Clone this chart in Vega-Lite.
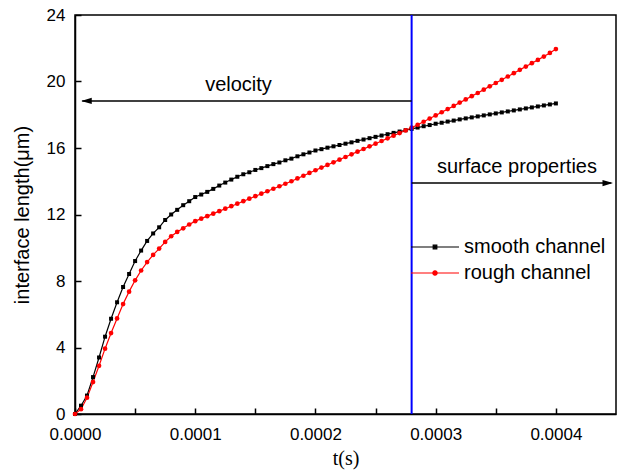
{
  "$schema": "https://vega.github.io/schema/vega-lite/v6.json",
  "width": 541,
  "height": 399,
  "autosize": "none",
  "padding": {"left": 75, "top": 15, "right": 2, "bottom": 59},
  "background": "white",
  "config": {
    "view": {"stroke": "#000000", "strokeWidth": 1.5},
    "axis": {
      "grid": false,
      "domainColor": "#000000",
      "domainWidth": 1.5,
      "tickColor": "#000000",
      "tickWidth": 1.5,
      "labelColor": "#000000",
      "labelFont": "Liberation Sans",
      "labelFontSize": 17,
      "titleColor": "#000000",
      "titleFontWeight": "normal"
    }
  },
  "datasets": {
    "series": [
      {"t": 0, "v": 0, "s": "smooth channel"},
      {"t": 0.000005, "v": 0.5, "s": "smooth channel"},
      {"t": 0.00001, "v": 1.11, "s": "smooth channel"},
      {"t": 0.000015, "v": 2.22, "s": "smooth channel"},
      {"t": 0.00002, "v": 3.40, "s": "smooth channel"},
      {"t": 0.000025, "v": 4.65, "s": "smooth channel"},
      {"t": 0.00003, "v": 5.73, "s": "smooth channel"},
      {"t": 0.000035, "v": 6.72, "s": "smooth channel"},
      {"t": 0.00004, "v": 7.64, "s": "smooth channel"},
      {"t": 0.000045, "v": 8.42, "s": "smooth channel"},
      {"t": 0.00005, "v": 9.20, "s": "smooth channel"},
      {"t": 0.000055, "v": 9.83, "s": "smooth channel"},
      {"t": 0.00006, "v": 10.41, "s": "smooth channel"},
      {"t": 0.000065, "v": 10.86, "s": "smooth channel"},
      {"t": 0.00007, "v": 11.23, "s": "smooth channel"},
      {"t": 0.000075, "v": 11.67, "s": "smooth channel"},
      {"t": 0.00008, "v": 12.00, "s": "smooth channel"},
      {"t": 0.000085, "v": 12.28, "s": "smooth channel"},
      {"t": 0.00009, "v": 12.56, "s": "smooth channel"},
      {"t": 0.000095, "v": 12.80, "s": "smooth channel"},
      {"t": 0.0001, "v": 13.05, "s": "smooth channel"},
      {"t": 0.000105, "v": 13.20, "s": "smooth channel"},
      {"t": 0.00011, "v": 13.36, "s": "smooth channel"},
      {"t": 0.000115, "v": 13.54, "s": "smooth channel"},
      {"t": 0.00012, "v": 13.74, "s": "smooth channel"},
      {"t": 0.000125, "v": 13.92, "s": "smooth channel"},
      {"t": 0.00013, "v": 14.10, "s": "smooth channel"},
      {"t": 0.000135, "v": 14.27, "s": "smooth channel"},
      {"t": 0.00014, "v": 14.42, "s": "smooth channel"},
      {"t": 0.000145, "v": 14.54, "s": "smooth channel"},
      {"t": 0.00015, "v": 14.68, "s": "smooth channel"},
      {"t": 0.000155, "v": 14.79, "s": "smooth channel"},
      {"t": 0.00016, "v": 14.91, "s": "smooth channel"},
      {"t": 0.000165, "v": 15.03, "s": "smooth channel"},
      {"t": 0.00017, "v": 15.13, "s": "smooth channel"},
      {"t": 0.000175, "v": 15.26, "s": "smooth channel"},
      {"t": 0.00018, "v": 15.36, "s": "smooth channel"},
      {"t": 0.000185, "v": 15.50, "s": "smooth channel"},
      {"t": 0.00019, "v": 15.62, "s": "smooth channel"},
      {"t": 0.000195, "v": 15.73, "s": "smooth channel"},
      {"t": 0.0002, "v": 15.85, "s": "smooth channel"},
      {"t": 0.000205, "v": 15.93, "s": "smooth channel"},
      {"t": 0.00021, "v": 16.02, "s": "smooth channel"},
      {"t": 0.000215, "v": 16.10, "s": "smooth channel"},
      {"t": 0.00022, "v": 16.18, "s": "smooth channel"},
      {"t": 0.000225, "v": 16.26, "s": "smooth channel"},
      {"t": 0.00023, "v": 16.34, "s": "smooth channel"},
      {"t": 0.000235, "v": 16.43, "s": "smooth channel"},
      {"t": 0.00024, "v": 16.51, "s": "smooth channel"},
      {"t": 0.000245, "v": 16.59, "s": "smooth channel"},
      {"t": 0.00025, "v": 16.67, "s": "smooth channel"},
      {"t": 0.000255, "v": 16.75, "s": "smooth channel"},
      {"t": 0.00026, "v": 16.83, "s": "smooth channel"},
      {"t": 0.000265, "v": 16.91, "s": "smooth channel"},
      {"t": 0.00027, "v": 16.99, "s": "smooth channel"},
      {"t": 0.000275, "v": 17.07, "s": "smooth channel"},
      {"t": 0.00028, "v": 17.15, "s": "smooth channel"},
      {"t": 0.000285, "v": 17.23, "s": "smooth channel"},
      {"t": 0.00029, "v": 17.31, "s": "smooth channel"},
      {"t": 0.000295, "v": 17.38, "s": "smooth channel"},
      {"t": 0.0003, "v": 17.46, "s": "smooth channel"},
      {"t": 0.000305, "v": 17.52, "s": "smooth channel"},
      {"t": 0.00031, "v": 17.59, "s": "smooth channel"},
      {"t": 0.000315, "v": 17.65, "s": "smooth channel"},
      {"t": 0.00032, "v": 17.72, "s": "smooth channel"},
      {"t": 0.000325, "v": 17.78, "s": "smooth channel"},
      {"t": 0.00033, "v": 17.84, "s": "smooth channel"},
      {"t": 0.000335, "v": 17.90, "s": "smooth channel"},
      {"t": 0.00034, "v": 17.96, "s": "smooth channel"},
      {"t": 0.000345, "v": 18.02, "s": "smooth channel"},
      {"t": 0.00035, "v": 18.08, "s": "smooth channel"},
      {"t": 0.000355, "v": 18.14, "s": "smooth channel"},
      {"t": 0.00036, "v": 18.20, "s": "smooth channel"},
      {"t": 0.000365, "v": 18.26, "s": "smooth channel"},
      {"t": 0.00037, "v": 18.32, "s": "smooth channel"},
      {"t": 0.000375, "v": 18.38, "s": "smooth channel"},
      {"t": 0.00038, "v": 18.44, "s": "smooth channel"},
      {"t": 0.000385, "v": 18.50, "s": "smooth channel"},
      {"t": 0.00039, "v": 18.56, "s": "smooth channel"},
      {"t": 0.000395, "v": 18.62, "s": "smooth channel"},
      {"t": 0.0004, "v": 18.68, "s": "smooth channel"},
      {"t": 0, "v": 0, "s": "rough channel"},
      {"t": 0.000005, "v": 0.29, "s": "rough channel"},
      {"t": 0.00001, "v": 0.98, "s": "rough channel"},
      {"t": 0.000015, "v": 1.92, "s": "rough channel"},
      {"t": 0.00002, "v": 2.90, "s": "rough channel"},
      {"t": 0.000025, "v": 3.93, "s": "rough channel"},
      {"t": 0.00003, "v": 4.87, "s": "rough channel"},
      {"t": 0.000035, "v": 5.75, "s": "rough channel"},
      {"t": 0.00004, "v": 6.61, "s": "rough channel"},
      {"t": 0.000045, "v": 7.36, "s": "rough channel"},
      {"t": 0.00005, "v": 8.04, "s": "rough channel"},
      {"t": 0.000055, "v": 8.63, "s": "rough channel"},
      {"t": 0.00006, "v": 9.14, "s": "rough channel"},
      {"t": 0.000065, "v": 9.57, "s": "rough channel"},
      {"t": 0.00007, "v": 9.95, "s": "rough channel"},
      {"t": 0.000075, "v": 10.35, "s": "rough channel"},
      {"t": 0.00008, "v": 10.69, "s": "rough channel"},
      {"t": 0.000085, "v": 10.95, "s": "rough channel"},
      {"t": 0.00009, "v": 11.17, "s": "rough channel"},
      {"t": 0.000095, "v": 11.40, "s": "rough channel"},
      {"t": 0.0001, "v": 11.60, "s": "rough channel"},
      {"t": 0.000105, "v": 11.75, "s": "rough channel"},
      {"t": 0.00011, "v": 11.90, "s": "rough channel"},
      {"t": 0.000115, "v": 12.05, "s": "rough channel"},
      {"t": 0.00012, "v": 12.20, "s": "rough channel"},
      {"t": 0.000125, "v": 12.35, "s": "rough channel"},
      {"t": 0.00013, "v": 12.50, "s": "rough channel"},
      {"t": 0.000135, "v": 12.65, "s": "rough channel"},
      {"t": 0.00014, "v": 12.80, "s": "rough channel"},
      {"t": 0.000145, "v": 12.95, "s": "rough channel"},
      {"t": 0.00015, "v": 13.10, "s": "rough channel"},
      {"t": 0.000155, "v": 13.25, "s": "rough channel"},
      {"t": 0.00016, "v": 13.40, "s": "rough channel"},
      {"t": 0.000165, "v": 13.55, "s": "rough channel"},
      {"t": 0.00017, "v": 13.70, "s": "rough channel"},
      {"t": 0.000175, "v": 13.85, "s": "rough channel"},
      {"t": 0.00018, "v": 14.00, "s": "rough channel"},
      {"t": 0.000185, "v": 14.17, "s": "rough channel"},
      {"t": 0.00019, "v": 14.33, "s": "rough channel"},
      {"t": 0.000195, "v": 14.50, "s": "rough channel"},
      {"t": 0.0002, "v": 14.66, "s": "rough channel"},
      {"t": 0.000205, "v": 14.82, "s": "rough channel"},
      {"t": 0.00021, "v": 14.98, "s": "rough channel"},
      {"t": 0.000215, "v": 15.14, "s": "rough channel"},
      {"t": 0.00022, "v": 15.30, "s": "rough channel"},
      {"t": 0.000225, "v": 15.46, "s": "rough channel"},
      {"t": 0.00023, "v": 15.62, "s": "rough channel"},
      {"t": 0.000235, "v": 15.78, "s": "rough channel"},
      {"t": 0.00024, "v": 15.94, "s": "rough channel"},
      {"t": 0.000245, "v": 16.10, "s": "rough channel"},
      {"t": 0.00025, "v": 16.26, "s": "rough channel"},
      {"t": 0.000255, "v": 16.42, "s": "rough channel"},
      {"t": 0.00026, "v": 16.58, "s": "rough channel"},
      {"t": 0.000265, "v": 16.74, "s": "rough channel"},
      {"t": 0.00027, "v": 16.90, "s": "rough channel"},
      {"t": 0.000275, "v": 17.06, "s": "rough channel"},
      {"t": 0.00028, "v": 17.22, "s": "rough channel"},
      {"t": 0.000285, "v": 17.40, "s": "rough channel"},
      {"t": 0.00029, "v": 17.58, "s": "rough channel"},
      {"t": 0.000295, "v": 17.77, "s": "rough channel"},
      {"t": 0.0003, "v": 17.96, "s": "rough channel"},
      {"t": 0.000305, "v": 18.15, "s": "rough channel"},
      {"t": 0.00031, "v": 18.34, "s": "rough channel"},
      {"t": 0.000315, "v": 18.53, "s": "rough channel"},
      {"t": 0.00032, "v": 18.73, "s": "rough channel"},
      {"t": 0.000325, "v": 18.92, "s": "rough channel"},
      {"t": 0.00033, "v": 19.12, "s": "rough channel"},
      {"t": 0.000335, "v": 19.31, "s": "rough channel"},
      {"t": 0.00034, "v": 19.51, "s": "rough channel"},
      {"t": 0.000345, "v": 19.71, "s": "rough channel"},
      {"t": 0.00035, "v": 19.91, "s": "rough channel"},
      {"t": 0.000355, "v": 20.10, "s": "rough channel"},
      {"t": 0.00036, "v": 20.30, "s": "rough channel"},
      {"t": 0.000365, "v": 20.50, "s": "rough channel"},
      {"t": 0.00037, "v": 20.70, "s": "rough channel"},
      {"t": 0.000375, "v": 20.90, "s": "rough channel"},
      {"t": 0.00038, "v": 21.10, "s": "rough channel"},
      {"t": 0.000385, "v": 21.30, "s": "rough channel"},
      {"t": 0.00039, "v": 21.50, "s": "rough channel"},
      {"t": 0.000395, "v": 21.72, "s": "rough channel"},
      {"t": 0.0004, "v": 21.95, "s": "rough channel"}
    ],
    "vline": [{"t": 0.00028}],
    "arrows": [
      {"t1": 0.000006, "t2": 0.00028, "v": 18.83},
      {"t1": 0.00028, "t2": 0.000446, "v": 13.89}
    ],
    "headLeft": [{"t": 0.0000052, "v": 18.83}],
    "headRight": [{"t": 0.0004475, "v": 13.89}],
    "notes": [
      {"t": 0.000136, "v": 19.43, "label": "velocity"},
      {"t": 0.0003676, "v": 14.51, "label": "surface properties"}
    ]
  },
  "layer": [
    {
      "data": {"name": "series"},
      "mark": {"type": "line", "strokeWidth": 1.2},
      "encoding": {
        "x": {
          "field": "t", "type": "quantitative",
          "scale": {"domain": [0, 0.00045], "nice": false, "zero": false},
          "axis": {
            "title": "t(s)",
            "titleFont": "Liberation Serif",
            "titleFontSize": 20,
            "titlePadding": 6,
            "values": [0, 0.00005, 0.0001, 0.00015, 0.0002, 0.00025, 0.0003, 0.00035, 0.0004],
            "labelExpr": "round(datum.value*100000) % 10 === 0 ? format(datum.value, '.4f') : ''",
            "tickSize": -6,
            "labelPadding": 18,
            "labelFlush": false,
            "labelOverlap": false
          }
        },
        "y": {
          "field": "v", "type": "quantitative",
          "scale": {"domain": [0, 24], "nice": false},
          "axis": {
            "title": "interface length(μm)",
            "titleFont": "Liberation Sans",
            "titleFontSize": 20,
            "titlePadding": 14,
            "values": [0, 2, 4, 6, 8, 10, 12, 14, 16, 18, 20, 22, 24],
            "labelExpr": "datum.value % 4 === 0 ? datum.value : ''",
            "tickSize": -6,
            "labelPadding": 16,
            "labelFlush": false,
            "labelOverlap": false
          }
        },
        "color": {
          "field": "s", "type": "nominal",
          "scale": {"domain": ["smooth channel", "rough channel"], "range": ["#000000", "#ff0000"]},
          "legend": {
            "orient": "none",
            "legendX": 335,
            "legendY": 220,
            "title": null,
            "padding": 0,
            "labelFont": "Liberation Sans",
            "labelFontSize": 20,
            "labelColor": "#000000",
            "labelOffset": 4,
            "symbolType": "M-1,0L1,0",
            "symbolSize": 2304,
            "symbolStrokeWidth": 1.2,
            "clipHeight": 24,
            "rowPadding": 2,
            "encode": {
              "symbols": {
                "update": {
                  "shape": {"signal": "datum.value === 'smooth channel' ? 'M-1,0L1,0M-0.075,-0.075L0.075,-0.075L0.075,0.075L-0.075,0.075Z' : 'M-1,0L1,0M0.09,0A0.09,0.09,0,1,1,-0.09,0A0.09,0.09,0,1,1,0.09,0Z'"},
                  "fill": {"signal": "datum.value === 'smooth channel' ? '#000000' : '#ff0000'"},
                  "stroke": {"signal": "datum.value === 'smooth channel' ? '#000000' : '#ff0000'"},
                  "strokeWidth": {"value": 1.2},
                  "size": {"value": 2304},
                  "opacity": {"value": 1}
                }
              }
            }
          }
        },
        "order": {"field": "t", "type": "quantitative"}
      }
    },
    {
      "data": {"name": "series"},
      "transform": [{"filter": "datum.s === 'smooth channel'"}],
      "mark": {"type": "point", "filled": true, "opacity": 1, "shape": "square", "size": 16, "color": "#000000"},
      "encoding": {
        "x": {"field": "t", "type": "quantitative"},
        "y": {"field": "v", "type": "quantitative"}
      }
    },
    {
      "data": {"name": "series"},
      "transform": [{"filter": "datum.s === 'rough channel'"}],
      "mark": {"type": "point", "filled": true, "opacity": 1, "shape": "circle", "size": 22, "color": "#ff0000"},
      "encoding": {
        "x": {"field": "t", "type": "quantitative"},
        "y": {"field": "v", "type": "quantitative"}
      }
    },
    {
      "data": {"name": "vline"},
      "mark": {"type": "rule", "color": "#0000ff", "strokeWidth": 2},
      "encoding": {"x": {"field": "t", "type": "quantitative"}}
    },
    {
      "data": {"name": "arrows"},
      "mark": {"type": "rule", "color": "#000000", "strokeWidth": 1.5},
      "encoding": {
        "x": {"field": "t1", "type": "quantitative"},
        "x2": {"field": "t2"},
        "y": {"field": "v", "type": "quantitative"}
      }
    },
    {
      "data": {"name": "headLeft"},
      "mark": {"type": "point", "filled": true, "color": "#000000", "opacity": 1, "size": 110, "shape": "M0,0L2,-0.6L2,0.6Z"},
      "encoding": {
        "x": {"field": "t", "type": "quantitative"},
        "y": {"field": "v", "type": "quantitative"}
      }
    },
    {
      "data": {"name": "headRight"},
      "mark": {"type": "point", "filled": true, "color": "#000000", "opacity": 1, "size": 110, "shape": "M0,0L-2,-0.6L-2,0.6Z"},
      "encoding": {
        "x": {"field": "t", "type": "quantitative"},
        "y": {"field": "v", "type": "quantitative"}
      }
    },
    {
      "data": {"name": "notes"},
      "mark": {"type": "text", "font": "Liberation Sans", "fontSize": 20, "color": "#000000", "align": "center", "baseline": "alphabetic"},
      "encoding": {
        "x": {"field": "t", "type": "quantitative"},
        "y": {"field": "v", "type": "quantitative"},
        "text": {"field": "label"}
      }
    }
  ]
}
